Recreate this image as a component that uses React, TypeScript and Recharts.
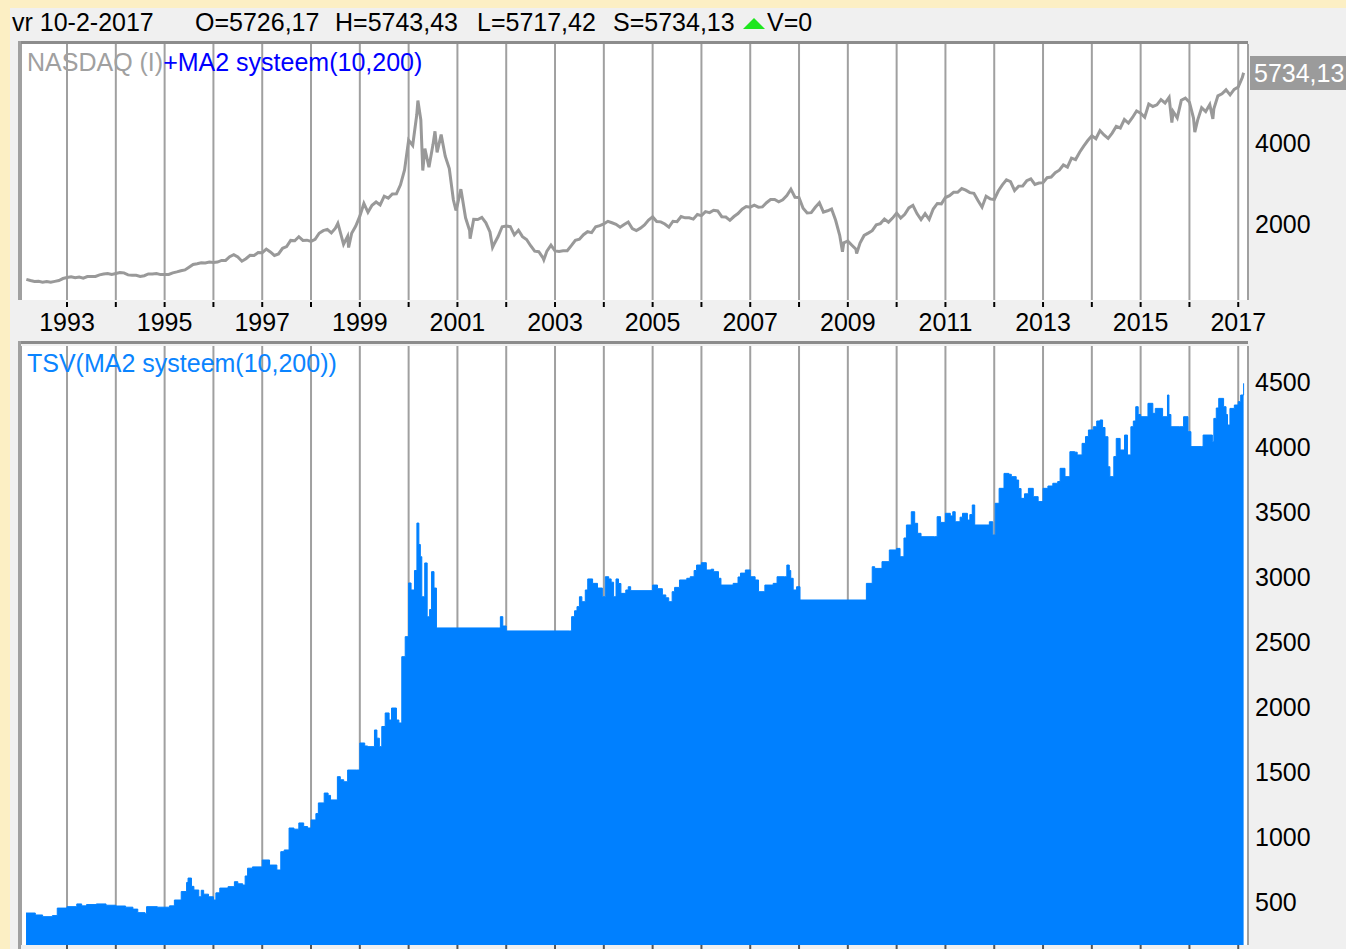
import React from 'react';
import { LineChart, Line, AreaChart, Area, XAxis, YAxis, CartesianGrid } from 'recharts';

const FONT = '"Liberation Sans", Arial, sans-serif';

// year grid: every year gets a line, odd years get a label
const YEAR_TICKS = [1993, 1994, 1995, 1996, 1997, 1998, 1999, 2000, 2001, 2002, 2003, 2004, 2005,
  2006, 2007, 2008, 2009, 2010, 2011, 2012, 2013, 2014, 2015, 2016, 2017];
const YEAR_LABELS = ['1993', '1995', '1997', '1999', '2001', '2003', '2005', '2007', '2009', '2011', '2013', '2015', '2017'];

const PRICE_TICKS = [2000, 4000];
const TSV_TICKS = [500, 1000, 1500, 2000, 2500, 3000, 3500, 4000, 4500];

// NASDAQ month-end closes, Feb 1992 .. Jan 2017
const NASDAQ_FIRST_MONTH = 1992 + 2 / 12;
const NASDAQ_MONTHLY = [
  633, 604, 579, 585, 564, 581, 563, 583, 605, 653, 677,
  696, 671, 690, 661, 701, 704, 705, 743, 763, 779, 754, 777,
  800, 793, 743, 734, 735, 706, 722, 766, 764, 777, 750, 752,
  755, 794, 817, 844, 865, 933, 1001, 1020, 1044, 1036, 1059, 1052,
  1060, 1100, 1101, 1191, 1243, 1185, 1081, 1142, 1227, 1222, 1293, 1291,
  1380, 1309, 1222, 1261, 1400, 1442, 1594, 1587, 1686, 1594, 1601, 1570,
  1619, 1771, 1836, 1868, 1779, 1895, 1872, 1499, 1694, 1771, 1950, 2193,
  2506, 2288, 2461, 2543, 2471, 2686, 2638, 2739, 2746, 2966, 3336, 4069,
  3940, 4697, 4573, 3861, 3401, 3966, 3767, 4206, 3673, 3370, 2598, 2471,
  2773, 2152, 1840, 2116, 2110, 2161, 2027, 1805, 1499, 1690, 1931, 1950,
  1934, 1731, 1845, 1688, 1616, 1463, 1328, 1315, 1172, 1330, 1479, 1336,
  1321, 1338, 1341, 1464, 1596, 1623, 1735, 1810, 1787, 1932, 1960, 2003,
  2066, 2030, 1994, 1920, 1987, 2048, 1887, 1838, 1897, 1975, 2097, 2175,
  2062, 2052, 1999, 1922, 2068, 2057, 2185, 2152, 2152, 2120, 2233, 2205,
  2306, 2281, 2340, 2323, 2179, 2172, 2091, 2184, 2258, 2367, 2432, 2415,
  2464, 2416, 2422, 2525, 2605, 2603, 2546, 2596, 2702, 2859, 2661, 2652,
  2390, 2271, 2279, 2413, 2523, 2293, 2326, 2368, 2092, 1721, 1536, 1577,
  1476, 1378, 1529, 1717, 1774, 1835, 1979, 2009, 2122, 2045, 2145, 2269,
  2147, 2238, 2398, 2461, 2257, 2109, 2255, 2114, 2369, 2507, 2498, 2653,
  2700, 2782, 2781, 2874, 2835, 2774, 2756, 2579, 2415, 2684, 2620, 2605,
  2814, 2967, 3092, 3046, 2827, 2935, 2940, 3067, 3116, 2977, 3010, 3020,
  3142, 3160, 3268, 3329, 3456, 3403, 3626, 3590, 3771, 3920, 4060, 4177,
  4104, 4308, 4199, 4115, 4243, 4408, 4370, 4580, 4493, 4631, 4792, 4736,
  4635, 4964, 4901, 4941, 5070, 4987, 5128, 4777, 4620, 5054, 5109, 5007,
  4614, 4558, 4870, 4775, 4948, 4843, 5162, 5213, 5312, 5189, 5324, 5383,
  5615,
];

// intra-month highs/lows that the daily line shows
const NASDAQ_EXTREME_DATES = [1998.55, 1998.77, 2000.19, 2000.29, 2000.54, 2000.97, 2001.07, 2001.26,
  2001.72, 2002.77, 2008.89, 2009.18, 2015.64, 2016.11, 2016.48, 2017.11];
const NASDAQ_EXTREME_VALUES = [2014, 1419, 5048, 3321, 4289, 2333, 2859, 1638,
  1423, 1114, 1316, 1268, 4506, 4266, 4594, 5734];

// TSV equity curve (value holds until next date)
const TSV_DATES = [
  1992.16, 1992.35, 1992.5, 1992.7, 1992.8, 1993.0, 1993.2, 1993.3, 1993.4, 1993.6, 1993.8,
  1994.0, 1994.2, 1994.35, 1994.45, 1994.6, 1994.63, 1994.85, 1995.0, 1995.1, 1995.2, 1995.34,
  1995.45, 1995.48, 1995.55, 1995.6, 1995.7, 1995.75, 1995.8, 1995.9, 1996.0, 1996.05, 1996.13,
  1996.3, 1996.43, 1996.5, 1996.6, 1996.65, 1996.7, 1996.8, 1997.0, 1997.15, 1997.3, 1997.38,
  1997.45, 1997.55, 1997.65, 1997.75, 1997.85, 1997.93, 1998.0, 1998.1, 1998.15, 1998.27,
  1998.35, 1998.4, 1998.54, 1998.6, 1998.67, 1998.75, 1998.93, 1999.0, 1999.1, 1999.16, 1999.3,
  1999.35, 1999.4, 1999.45, 1999.52, 1999.6, 1999.65, 1999.75, 1999.8, 1999.86, 1999.93,
  2000.0, 2000.05, 2000.12, 2000.17, 2000.21, 2000.24, 2000.27, 2000.33, 2000.38, 2000.43,
  2000.47, 2000.52, 2000.57, 2001.85, 2001.88, 2001.93, 2002.0, 2003.3, 2003.34, 2003.4,
  2003.45, 2003.5, 2003.55, 2003.62, 2003.67, 2003.77, 2003.87, 2003.97, 2004.03, 2004.1,
  2004.15, 2004.2, 2004.25, 2004.3, 2004.35, 2004.45, 2004.5, 2004.55, 2005.0, 2005.1, 2005.2,
  2005.27, 2005.33, 2005.4, 2005.45, 2005.55, 2005.7, 2005.77, 2005.85, 2005.9, 2006.0, 2006.1,
  2006.2, 2006.25, 2006.35, 2006.4, 2006.65, 2006.75, 2006.8, 2006.9, 2007.0, 2007.1, 2007.17,
  2007.3, 2007.47, 2007.55, 2007.7, 2007.75, 2007.8, 2007.83, 2007.88, 2007.95, 2008.02,
  2009.35, 2009.38, 2009.5, 2009.55, 2009.7, 2009.85, 2010.0, 2010.07, 2010.15, 2010.2, 2010.3,
  2010.37, 2010.43, 2010.5, 2010.78, 2010.83, 2010.9, 2011.0, 2011.1, 2011.15, 2011.2, 2011.3,
  2011.35, 2011.45, 2011.5, 2011.55, 2011.6, 2011.85, 2011.9, 2011.97, 2012.02, 2012.1, 2012.2,
  2012.3, 2012.35, 2012.45, 2012.5, 2012.55, 2012.62, 2012.7, 2012.8, 2012.9, 2013.0, 2013.1,
  2013.2, 2013.3, 2013.35, 2013.45, 2013.55, 2013.65, 2013.7, 2013.8, 2013.87, 2013.93, 2014.03,
  2014.1, 2014.17, 2014.22, 2014.27, 2014.33, 2014.37, 2014.45, 2014.5, 2014.58, 2014.67,
  2014.73, 2014.8, 2014.85, 2014.9, 2014.95, 2015.0, 2015.15, 2015.25, 2015.3, 2015.45, 2015.55,
  2015.58, 2015.62, 2015.8, 2015.88, 2015.97, 2016.03, 2016.25, 2016.28, 2016.47, 2016.5,
  2016.55, 2016.6, 2016.7, 2016.75, 2016.78, 2016.83, 2016.92, 2017.0, 2017.05, 2017.11,
];
const TSV_VALUES = [
  415, 400, 387, 395, 453, 464, 485, 470, 480, 485, 475,
  469, 460, 445, 418, 410, 464, 460, 460, 470, 515, 580,
  650, 684, 620, 592, 540, 590, 560, 540, 515, 570, 607,
  618, 656, 640, 630, 700, 760, 770, 823, 784, 746, 887,
  900, 1069, 1060, 1108, 1080, 1069, 1131, 1180, 1262, 1338,
  1320, 1285, 1464, 1440, 1425, 1515, 1515, 1723, 1700, 1695, 1823,
  1760, 1695, 1850, 1954, 1900, 1992, 1900, 1877, 2387, 2541,
  2954, 2900, 3050, 3415, 3250, 3156, 2848, 3108, 2694, 2750,
  3041, 2915, 2608, 2608, 2695, 2623, 2585, 2585, 2695, 2740,
  2772, 2848, 2810, 2900, 2985, 2951, 2915, 2848, 3002, 2985,
  2960, 2848, 2985, 2950, 2874, 2900, 2925, 2895, 2938, 2910, 2862,
  2840, 2810, 2887, 2920, 2977, 2990, 3002, 3050, 3092, 3110, 3054,
  3060, 3041, 2990, 2938, 2951, 3000, 3030, 3054, 3002, 2977, 2887,
  2938, 2951, 3002, 3002, 3092, 3050, 2990, 2900, 2925, 2823,
  2823, 2951, 3079, 3066, 3118, 3208, 3220, 3156, 3300, 3400, 3502,
  3413, 3336, 3310, 3310, 3464, 3420, 3490, 3470, 3502, 3425, 3460,
  3490, 3438, 3480, 3554, 3400, 3400, 3425, 3323, 3567, 3682, 3797,
  3790, 3772, 3746, 3680, 3605, 3640, 3682, 3618, 3580, 3682, 3700,
  3721, 3734, 3836, 3772, 3964, 3960, 3939, 4028, 4080, 4131, 4156,
  4200, 4208, 4150, 4079, 3848, 3772, 3926, 4066, 3977, 4092,
  3939, 4156, 4200, 4310, 4250, 4233, 4336, 4259, 4297, 4233, 4400,
  4250, 4156, 4156, 4233, 4118, 4003, 4003, 4092, 4041, 4220,
  4300, 4374, 4310, 4250, 4169, 4297, 4323, 4349, 4400, 4490,
];

const nasdaqData = [
  ...NASDAQ_MONTHLY.map((v, i) => ({ t: NASDAQ_FIRST_MONTH + i / 12, v })),
  ...NASDAQ_EXTREME_DATES.map((t, i) => ({ t, v: NASDAQ_EXTREME_VALUES[i] })),
].sort((a, b) => a.t - b.t);

const tsvData = TSV_DATES.map((t, i) => ({ t, v: TSV_VALUES[i] }));

const X_DOMAIN: [number, number] = [1992.057, 2017.2];

const YearTick = (props: any) => {
  const { x, payload } = props;
  const label = String(payload.value);
  return (
    <g>
      <line x1={x} x2={x} y1={302} y2={307} stroke="#000" strokeWidth={2} />
      {YEAR_LABELS.includes(label) && (
        <text x={x} y={331} textAnchor="middle" fontSize={25} fontFamily={FONT} fill="#000">{label}</text>
      )}
    </g>
  );
};

const BottomTick = (props: any) => (
  <line x1={props.x} x2={props.x} y1={605} y2={609} stroke="#555" strokeWidth={2} />
);

const ValueTick = (props: any) => (
  <text x={1255} y={props.y + 9} fontSize={25} fontFamily={FONT} fill="#000">{props.payload.value}</text>
);

const abs = (left: number, top: number, extra: React.CSSProperties = {}): React.CSSProperties => ({
  position: 'absolute', left, top, whiteSpace: 'nowrap', fontSize: 25, lineHeight: '25px', ...extra,
});

export default function App() {
  return (
    <div style={{ position: 'absolute', left: 0, top: 0, width: 1346, height: 949, overflow: 'hidden', background: '#fcefc4', fontFamily: FONT }}>
      <div style={{ position: 'absolute', left: 10, top: 8, right: 0, bottom: 0, background: '#f0f0f0' }} />

      {/* header line */}
      <span style={abs(12, 10)}>vr 10-2-2017</span>
      <span style={abs(195, 10)}>O=5726,17</span>
      <span style={abs(335, 10)}>H=5743,43</span>
      <span style={abs(477, 10)}>L=5717,42</span>
      <span style={abs(613, 10)}>S=5734,13</span>
      <svg style={{ position: 'absolute', left: 743, top: 18 }} width={24} height={12}>
        <polygon points="0,11 11,0 22,11" fill="#1ee61e" />
      </svg>
      <span style={abs(767, 10)}>V=0</span>

      {/* top panel: price */}
      <div style={{ position: 'absolute', left: 0, top: 0 }}>
        <LineChart width={1346} height={345} data={nasdaqData} margin={{ top: 44, right: 0, left: 21, bottom: 0 }}>
          <CartesianGrid horizontal={false} stroke="#a0a0a0" strokeWidth={2} fill="#ffffff" fillOpacity={1} />
          <XAxis dataKey="t" type="number" domain={X_DOMAIN} ticks={YEAR_TICKS} interval={0} allowDataOverflow
            axisLine={false} tickLine={false} height={45} tick={YearTick} />
          <YAxis orientation="right" width={98} domain={[123, 6444]} ticks={PRICE_TICKS} interval={0} allowDataOverflow
            axisLine={false} tickLine={false} tick={ValueTick} />
          <Line dataKey="v" type="linear" stroke="#999999" strokeWidth={3} dot={false} isAnimationActive={false} />
        </LineChart>
      </div>
      <div style={{ position: 'absolute', left: 18, top: 41, width: 1230, height: 3, background: '#8c8c8c' }} />
      <div style={{ position: 'absolute', left: 18, top: 41, width: 3, height: 259, background: '#a0a0a0' }} />
      <span style={abs(27, 50, { color: '#a0a0a0' })}>NASDAQ (I)<span style={{ color: '#0000ff' }}>+MA2 systeem(10,200)</span></span>
      <div style={{ position: 'absolute', left: 1250, top: 56, width: 96, height: 34, background: '#9b9b9b' }} />
      <span style={abs(1254, 61, { color: '#ffffff' })}>5734,13</span>

      {/* bottom panel: equity */}
      <div style={{ position: 'absolute', left: 0, top: 340 }}>
        <AreaChart width={1346} height={609} data={tsvData} margin={{ top: 6, right: 0, left: 21, bottom: 0 }}>
          <CartesianGrid horizontal={false} stroke="#a0a0a0" strokeWidth={2} fill="#ffffff" fillOpacity={1} />
          <XAxis dataKey="t" type="number" domain={X_DOMAIN} ticks={YEAR_TICKS} interval={0} allowDataOverflow
            axisLine={false} tickLine={false} height={4} tick={BottomTick} />
          <YAxis orientation="right" width={98} domain={[169, 4777]} ticks={TSV_TICKS} interval={0} allowDataOverflow
            axisLine={false} tickLine={false} tick={ValueTick} />
          <Area dataKey="v" type="stepAfter" stroke="#0080ff" strokeWidth={1} fill="#0080ff" fillOpacity={1}
            dot={false} isAnimationActive={false} />
        </AreaChart>
      </div>
      <div style={{ position: 'absolute', left: 18, top: 341, width: 1230, height: 3, background: '#8c8c8c' }} />
      <div style={{ position: 'absolute', left: 18, top: 341, width: 3, height: 608, background: '#a0a0a0' }} />
      <span style={abs(27, 351, { color: '#0a84ff' })}>TSV(MA2 systeem(10,200))</span>
    </div>
  );
}
